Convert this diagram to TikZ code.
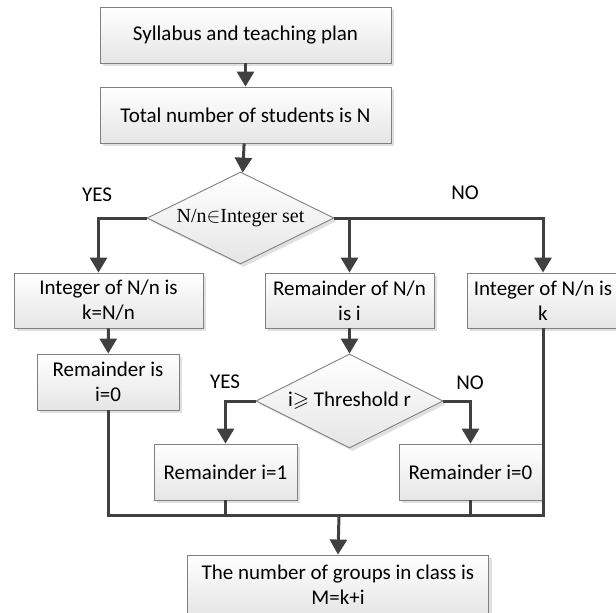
\documentclass[tikz,border=0pt]{standalone}
\usepackage{amssymb}
\usepackage{fontspec}
\setmainfont{Carlito}
\newfontfamily\timesfont{Liberation Serif}
\usetikzlibrary{shapes.geometric,arrows.meta,shadows}

\definecolor{linegray}{HTML}{404040}
\definecolor{edgegray}{HTML}{808080}

\tikzset{
	box/.style={rectangle, draw=edgegray, line width=0.9pt, top color=white, bottom color=black!10,
		drop shadow={shadow xshift=3pt, shadow yshift=-3pt, fill=black!12, opacity=1},
		align=center, inner sep=0pt, font=\fontsize{21}{25}\selectfont},
	decision/.style={diamond, draw=edgegray, line width=0.9pt, top color=white, bottom color=black!10,
		drop shadow={shadow xshift=3pt, shadow yshift=-3pt, fill=black!12, opacity=1},
		align=center, inner sep=0pt, aspect=2, font=\fontsize{21}{25}\selectfont},
	arr/.style={draw=linegray, line width=3pt, -{Triangle[length=15pt,width=17pt]}},
	wire/.style={draw=linegray, line width=3pt},
	lbl/.style={font=\fontsize{21}{25}\selectfont}
}

\begin{document}
\begin{tikzpicture}[x=1pt, y=-1pt]
		\useasboundingbox (0,0) rectangle (616,613);
		% boxes
		\node[box, minimum width=291pt, minimum height=56pt] (syllabus) at (245.5,35) {Syllabus and teaching plan};
		\node[box, minimum width=291pt, minimum height=56pt] (total) at (245.5,115) {Total number of students is N};
		\node[decision, minimum width=187pt, minimum height=92pt] (check) at (240.5,218) {\timesfont\fontsize{20}{24}\selectfont N/n$\in$Integer set};
		\node[box, minimum width=189pt, minimum height=55pt] (intk) at (108.5,300.5) {Integer of N/n is\\k=N/n};
		\node[box, minimum width=169pt, minimum height=55pt] (remN) at (349.5,300.5) {Remainder of N/n\\is i};
		\node[box, minimum width=152pt, minimum height=55pt] (intkR) at (543,300.5) {Integer of N/n is\\k};
		\node[box, minimum width=142pt, minimum height=56pt] (remzero) at (108,382) {Remainder is\\i=0};
		\node[decision, minimum width=187pt, minimum height=94pt] (thresh) at (349.5,401) {i$\geqslant$ Threshold r};
		\node[box, minimum width=143pt, minimum height=56pt] (remone) at (225.5,472) {Remainder i=1};
		\node[box, minimum width=143pt, minimum height=56pt] (remzeroR) at (470.5,472) {Remainder i=0};
		\node[box, minimum width=301pt, minimum height=60pt] (groups) at (338,585) {The number of groups in class is\\M=k+i};
		% labels
		\node[lbl] (yesA) at (97,195) {YES};
		\node[lbl] (noA) at (465,193) {NO};
		\node[lbl] (yesB) at (225,382) {YES};
		\node[lbl] (noB) at (470,383) {NO};
		% connectors
		\coordinate (bus) at (339,515);
		\draw[arr] (syllabus) -- (total);
		\draw[arr] (total) -- (check);
		\draw[arr] (check.west) -| ([xshift=-10pt]intk.north);
		\draw[arr] (check.east) -| (intkR.north);
		\draw[arr] (check.east -| remN.north) -- (remN.north);
		\draw[arr] (intk) -- (remzero);
		\draw[arr] (remN) -- (thresh);
		\draw[arr] (thresh.west) -| (remone.north);
		\draw[arr] (thresh.east) -| (remzeroR.north);
		\draw[wire] (remzero.south) |- (bus) -| (intkR.south);
		\draw[wire] (remone.south) -- (remone.south |- bus);
		\draw[wire] (remzeroR.south) -- (remzeroR.south |- bus);
		\draw[arr] (bus) -- (groups.north);
	\end{tikzpicture}
\end{document}
